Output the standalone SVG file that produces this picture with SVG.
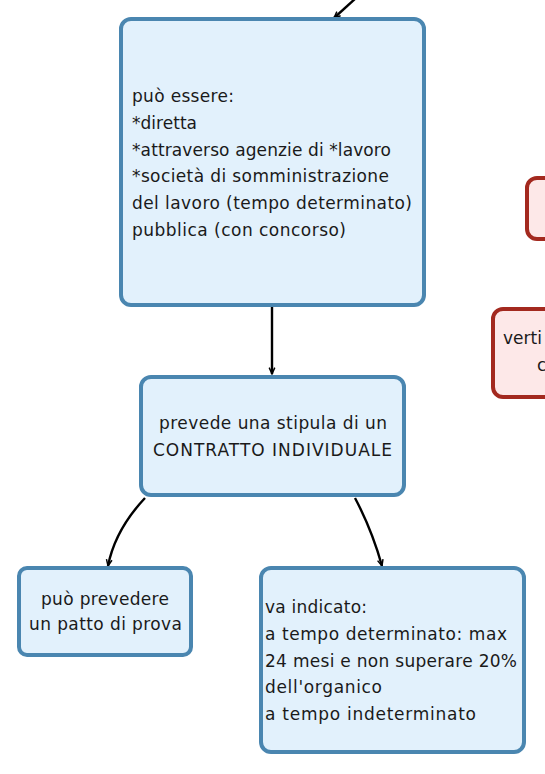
<svg xmlns="http://www.w3.org/2000/svg" width="545" height="774" viewBox="0 0 545 774">
<style>
.blue{fill:#e2f1fc;stroke:#4a86b0;stroke-width:4}
.red{fill:#fde8e8;stroke:#a3291f;stroke-width:4}
.t{font-family:"DejaVu Sans","Open Sans",sans-serif;font-size:17px;fill:#1a1a1a}
.edge{fill:none;stroke:#000;stroke-width:2.4;marker-end:url(#ah)}
</style>
<defs>
<marker id="ah" viewBox="0 0 10 10" refX="9" refY="5" markerWidth="8" markerHeight="8" orient="auto" markerUnits="userSpaceOnUse">
<path d="M1,1.5 L9,5 L1,8.5" fill="none" stroke="#000" stroke-width="1.8"/>
</marker>
</defs>
<g id="connectors">
<path class="edge" d="M356,-2 L334,18"/>
<path class="edge" d="M272,307 L272,374"/>
<path class="edge" d="M145,498 Q115,530 108,566"/>
<path class="edge" d="M355,498 Q372,530 382,566"/>
</g>
<g id="node-accesso">
<rect class="blue" x="121" y="19" width="303" height="286" rx="10"/>
<text class="t">
<tspan x="132" y="102" textLength="102" lengthAdjust="spacing">può essere:</tspan>
<tspan x="132" y="128.5" textLength="65" lengthAdjust="spacing">*diretta</tspan>
<tspan x="132" y="155.5" textLength="259" lengthAdjust="spacing">*attraverso agenzie di *lavoro</tspan>
<tspan x="132" y="182" textLength="257" lengthAdjust="spacing">*società di somministrazione</tspan>
<tspan x="132" y="209" textLength="280" lengthAdjust="spacing">del lavoro (tempo determinato)</tspan>
<tspan x="132" y="236" textLength="214" lengthAdjust="spacing">pubblica (con concorso)</tspan>
</text>
</g>
<g id="node-contratto">
<rect class="blue" x="141" y="377" width="263" height="118" rx="10"/>
<text class="t">
<tspan x="159" y="429" textLength="228" lengthAdjust="spacing">prevede una stipula di un</tspan>
<tspan x="153" y="456" textLength="239" lengthAdjust="spacing">CONTRATTO INDIVIDUALE</tspan>
</text>
</g>
<g id="node-prova">
<rect class="blue" x="19" y="568" width="172" height="87" rx="8"/>
<text class="t">
<tspan x="41" y="605" textLength="128" lengthAdjust="spacing">può prevedere</tspan>
<tspan x="29" y="630" textLength="153" lengthAdjust="spacing">un patto di prova</tspan>
</text>
</g>
<g id="node-tempo">
<rect class="blue" x="261" y="568" width="263" height="184" rx="10"/>
<text class="t">
<tspan x="265" y="613" textLength="102" lengthAdjust="spacing">va indicato:</tspan>
<tspan x="265" y="640" textLength="242" lengthAdjust="spacing">a tempo determinato: max</tspan>
<tspan x="265" y="667" textLength="252" lengthAdjust="spacing">24 mesi e non superare 20%</tspan>
<tspan x="265" y="693" textLength="117" lengthAdjust="spacing">dell'organico</tspan>
<tspan x="265" y="720" textLength="211" lengthAdjust="spacing">a tempo indeterminato</tspan>
</text>
</g>
<g id="node-red1">
<rect class="red" x="527" y="178" width="60" height="61" rx="10"/>
</g>
<g id="node-red2">
<rect class="red" x="493" y="309" width="100" height="88" rx="10"/>
<text class="t">
<tspan x="503" y="344">verti</tspan>
<tspan x="537" y="371">c</tspan>
</text>
</g>
</svg>
